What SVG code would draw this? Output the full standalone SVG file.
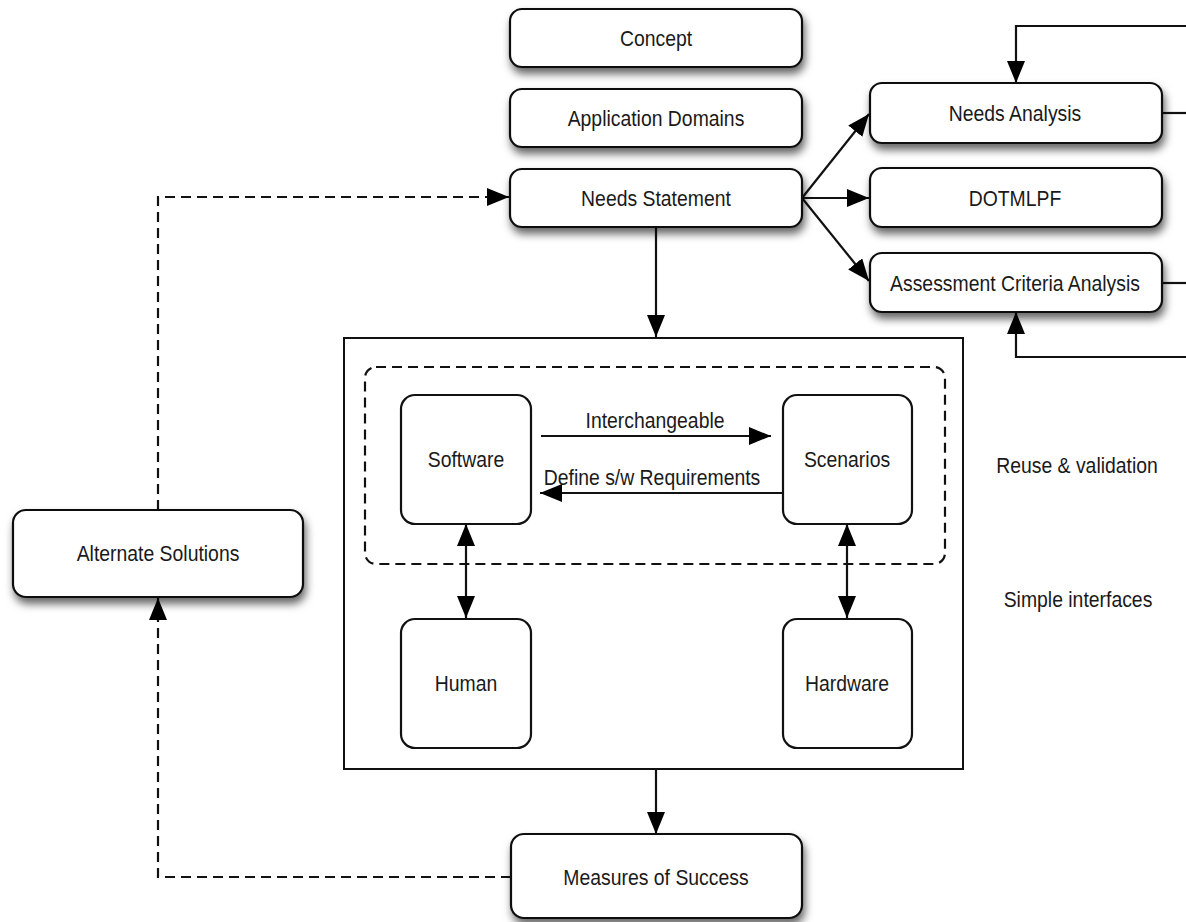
<svg xmlns="http://www.w3.org/2000/svg" width="1186" height="922" viewBox="0 0 1186 922">
  <style>
    .box { fill: #ffffff; stroke: #111111; stroke-width: 2.2; }
    .sh { filter: url(#shadow); }
    .frame { fill: #ffffff; stroke: #111111; stroke-width: 2; }
    .dashframe { fill: none; stroke: #111111; stroke-width: 2.2; stroke-dasharray: 10 6; }
    .t { font-family: "Liberation Sans", Arial, Helvetica, sans-serif; font-size: 22.4px; fill: #1a1a1a; text-anchor: middle; }
    .c { fill: none; stroke: #111111; stroke-width: 2.2; }
    .dash { stroke-dasharray: 10 6; }
  </style>
  <defs>
    <filter id="shadow" x="-10%" y="-20%" width="130%" height="170%">
      <feDropShadow dx="2" dy="6" stdDeviation="4.5" flood-color="#000000" flood-opacity="0.6"/>
    </filter>
    <marker id="ah" viewBox="0 0 22 18" refX="22" refY="9" markerWidth="22" markerHeight="18" markerUnits="userSpaceOnUse" orient="auto-start-reverse">
      <path d="M0,0 L22,9 L0,18 z" fill="#000000"/>
    </marker>
  </defs>

  <rect width="1186" height="922" fill="#ffffff"/>

  <!-- container frame -->
  <g id="system">
    <rect class="frame" x="344" y="338" width="619" height="431"/>
    <rect class="dashframe" x="365" y="367" width="580" height="197" rx="11"/>
  </g>

  <!-- connectors -->
  <g id="connectors">
    <!-- Needs Statement fan-out -->
    <line class="c" x1="802" y1="198" x2="869" y2="114" marker-end="url(#ah)"/>
    <line class="c" x1="802" y1="198" x2="869" y2="198" marker-end="url(#ah)"/>
    <line class="c" x1="802" y1="198" x2="869" y2="281" marker-end="url(#ah)"/>
    <!-- feedback loops on the right -->
    <polyline class="c" points="1186,26 1016,26 1016,83" marker-end="url(#ah)"/>
    <line class="c" x1="1162" y1="113" x2="1186" y2="113"/>
    <line class="c" x1="1162" y1="283" x2="1186" y2="283"/>
    <polyline class="c" points="1186,357 1016,357 1016,312" marker-end="url(#ah)"/>
    <!-- main flow -->
    <line class="c" x1="656" y1="227" x2="656" y2="337" marker-end="url(#ah)"/>
    <line class="c" x1="656" y1="769" x2="656" y2="834" marker-end="url(#ah)"/>
    <!-- inner links -->
    <line class="c" x1="541" y1="436" x2="771" y2="436" marker-end="url(#ah)"/>
    <line class="c" x1="782" y1="493" x2="540" y2="493" marker-end="url(#ah)"/>
    <line class="c" x1="466" y1="524" x2="466" y2="618" marker-start="url(#ah)" marker-end="url(#ah)"/>
    <line class="c" x1="847" y1="524" x2="847" y2="618" marker-start="url(#ah)" marker-end="url(#ah)"/>
    <!-- dashed alternates loop -->
    <polyline class="c dash" points="158,510 158,197 509,197" marker-end="url(#ah)"/>
    <polyline class="c dash" points="511,877 158,877 158,598" marker-end="url(#ah)"/>
  </g>

  <g id="concept">
    <rect class="box sh" x="510" y="9" width="292" height="58" rx="12"/>
    <text class="t" transform="translate(656,46) scale(0.866,1)">Concept</text>
  </g>
  <g id="application-domains">
    <rect class="box sh" x="510" y="89" width="292" height="58" rx="12"/>
    <text class="t" transform="translate(656,126) scale(0.866,1)">Application Domains</text>
  </g>
  <g id="needs-statement">
    <rect class="box sh" x="510" y="169" width="292" height="58" rx="12"/>
    <text class="t" transform="translate(656,206) scale(0.866,1)">Needs Statement</text>
  </g>
  <g id="needs-analysis">
    <rect class="box sh" x="870" y="83" width="292" height="60" rx="12"/>
    <text class="t" transform="translate(1015,121) scale(0.866,1)">Needs Analysis</text>
  </g>
  <g id="dotmlpf">
    <rect class="box sh" x="870" y="168" width="292" height="59" rx="12"/>
    <text class="t" transform="translate(1015,206) scale(0.866,1)">DOTMLPF</text>
  </g>
  <g id="assessment-criteria-analysis">
    <rect class="box sh" x="870" y="253" width="292" height="59" rx="12"/>
    <text class="t" transform="translate(1015,291) scale(0.866,1)">Assessment Criteria Analysis</text>
  </g>

  <g id="software">
    <rect class="box" x="401" y="395" width="130" height="129" rx="14"/>
    <text class="t" transform="translate(466,467) scale(0.866,1)">Software</text>
  </g>
  <g id="scenarios">
    <rect class="box" x="783" y="395" width="129" height="129" rx="14"/>
    <text class="t" transform="translate(847,467) scale(0.866,1)">Scenarios</text>
  </g>
  <g id="human">
    <rect class="box" x="401" y="619" width="130" height="129" rx="14"/>
    <text class="t" transform="translate(466,691) scale(0.866,1)">Human</text>
  </g>
  <g id="hardware">
    <rect class="box" x="783" y="619" width="129" height="129" rx="14"/>
    <text class="t" transform="translate(847,691) scale(0.866,1)">Hardware</text>
  </g>

  <g id="link-labels">
    <text class="t" transform="translate(655,428) scale(0.866,1)">Interchangeable</text>
    <text class="t" transform="translate(652,485) scale(0.866,1)">Define s/w Requirements</text>
  </g>

  <g id="alternate-solutions">
    <rect class="box sh" x="13" y="510" width="290" height="87" rx="13"/>
    <text class="t" transform="translate(158,561) scale(0.866,1)">Alternate Solutions</text>
  </g>
  <g id="measures-of-success">
    <rect class="box sh" x="511" y="834" width="291" height="84" rx="13"/>
    <text class="t" transform="translate(656,885) scale(0.866,1)">Measures of Success</text>
  </g>

  <g id="notes">
    <text class="t" transform="translate(1077,473) scale(0.866,1)">Reuse &amp; validation</text>
    <text class="t" transform="translate(1078,607) scale(0.866,1)">Simple interfaces</text>
  </g>
</svg>
